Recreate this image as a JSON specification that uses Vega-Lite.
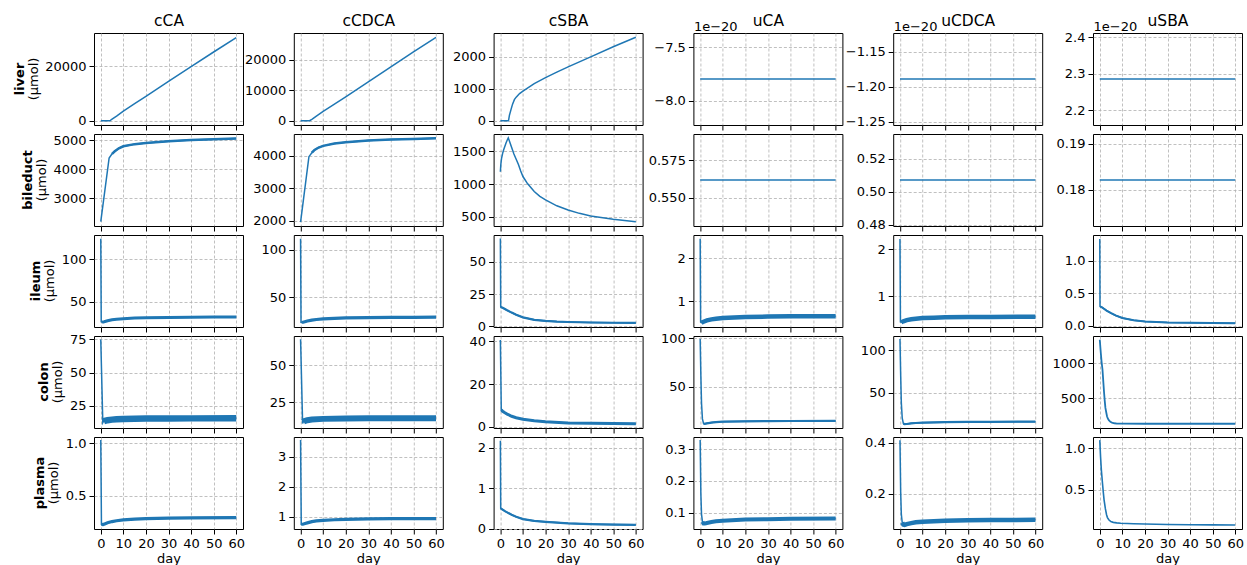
{
"$schema": "https://vega.github.io/schema/vega-lite/v6.json",
"background": "white",
"padding": {"left": 13, "top": 12, "right": 5, "bottom": 5},
"datasets": {
"liver_cCA": [{"day":0,"umol":0},{"day":2,"umol":0},{"day":4,"umol":0},{"day":5,"umol":560},{"day":7,"umol":1720},{"day":10,"umol":3550},{"day":15,"umol":6250},{"day":20,"umol":8950},{"day":30,"umol":14450},{"day":40,"umol":19800},{"day":50,"umol":25150},{"day":60,"umol":30430}],
"liver_cCDCA": [{"day":0,"umol":0},{"day":2,"umol":0},{"day":4,"umol":0},{"day":5,"umol":480},{"day":7,"umol":1500},{"day":10,"umol":3100},{"day":15,"umol":5450},{"day":20,"umol":7830},{"day":30,"umol":12800},{"day":40,"umol":17680},{"day":50,"umol":22650},{"day":60,"umol":27400}],
"liver_cSBA": [{"day":0,"umol":0},{"day":2,"umol":0},{"day":3.6,"umol":0},{"day":4,"umol":170},{"day":4.7,"umol":350},{"day":5.4,"umol":520},{"day":6.2,"umol":660},{"day":7,"umol":740},{"day":8.5,"umol":850},{"day":10,"umol":930},{"day":15,"umol":1160},{"day":20,"umol":1350},{"day":25,"umol":1520},{"day":30,"umol":1685},{"day":40,"umol":2000},{"day":50,"umol":2315},{"day":60,"umol":2610}],
"liver_uCA": [{"day":0,"umol":-7.798e-20},{"day":30,"umol":-7.798e-20},{"day":60,"umol":-7.798e-20}],
"liver_uCDCA": [{"day":0,"umol":-1.189e-20},{"day":30,"umol":-1.189e-20},{"day":60,"umol":-1.189e-20}],
"liver_uSBA": [{"day":0,"umol":2.2855e-20},{"day":30,"umol":2.2855e-20},{"day":60,"umol":2.2855e-20}],
"bileduct_cCA": [{"day":0,"umol":2190},{"day":3.7,"umol":4387},{"day":5,"umol":4530},{"day":6.2,"umol":4618},{"day":8,"umol":4720},{"day":10,"umol":4792},{"day":15,"umol":4865},{"day":20,"umol":4908},{"day":30,"umol":4965},{"day":40,"umol":5012},{"day":50,"umol":5035},{"day":60,"umol":5058}],
"bileduct_cCDCA": [{"day":0,"umol":1960},{"day":3.7,"umol":3969},{"day":5,"umol":4090},{"day":6.2,"umol":4175},{"day":8,"umol":4250},{"day":10,"umol":4300},{"day":15,"umol":4370},{"day":20,"umol":4412},{"day":30,"umol":4464},{"day":40,"umol":4495},{"day":50,"umol":4515},{"day":60,"umol":4536}],
"bileduct_cSBA": [{"day":0,"umol":1190},{"day":0.2,"umol":1300},{"day":0.5,"umol":1390},{"day":1,"umol":1470},{"day":1.5,"umol":1530},{"day":2,"umol":1580},{"day":2.5,"umol":1630},{"day":3,"umol":1670},{"day":3.5,"umol":1705},{"day":4,"umol":1660},{"day":4.5,"umol":1610},{"day":5,"umol":1560},{"day":6,"umol":1460},{"day":7,"umol":1380},{"day":8,"umol":1300},{"day":9,"umol":1200},{"day":10,"umol":1117},{"day":12,"umol":1010},{"day":15,"umol":888},{"day":17.5,"umol":815},{"day":20,"umol":760},{"day":25,"umol":670},{"day":30,"umol":607},{"day":35,"umol":555},{"day":40,"umol":515},{"day":50,"umol":465},{"day":60,"umol":428}],
"bileduct_uCA": [{"day":0,"umol":0.5619},{"day":30,"umol":0.5619},{"day":60,"umol":0.5619}],
"bileduct_uCDCA": [{"day":0,"umol":0.5071},{"day":30,"umol":0.5071},{"day":60,"umol":0.5071}],
"bileduct_uSBA": [{"day":0,"umol":0.1821},{"day":30,"umol":0.1821},{"day":60,"umol":0.1821}],
"ileum_cCA": [{"day":0,"umol":124.5},{"day":0.2,"umol":26},{"day":0.6,"umol":25.4},{"day":1.5,"umol":26},{"day":3,"umol":27.2},{"day":5,"umol":28.3},{"day":7,"umol":29},{"day":10,"umol":29.7},{"day":15,"umol":30.4},{"day":20,"umol":30.8},{"day":30,"umol":31.2},{"day":40,"umol":31.5},{"day":50,"umol":31.7},{"day":60,"umol":31.8}],
"ileum_cCDCA": [{"day":0,"umol":111.6},{"day":0.2,"umol":23.6},{"day":0.6,"umol":23.4},{"day":1.5,"umol":24},{"day":3,"umol":25},{"day":5,"umol":26},{"day":7,"umol":26.6},{"day":10,"umol":27.2},{"day":15,"umol":27.8},{"day":20,"umol":28.2},{"day":30,"umol":28.6},{"day":40,"umol":28.8},{"day":50,"umol":28.9},{"day":60,"umol":29}],
"ileum_cSBA": [{"day":0,"umol":68.2},{"day":0.15,"umol":15},{"day":1,"umol":14.3},{"day":2,"umol":13.4},{"day":3,"umol":12.4},{"day":5,"umol":10.6},{"day":7,"umol":8.9},{"day":10,"umol":6.9},{"day":15,"umol":5},{"day":20,"umol":4.1},{"day":25,"umol":3.6},{"day":30,"umol":3.3},{"day":40,"umol":2.9},{"day":50,"umol":2.7},{"day":60,"umol":2.6}],
"ileum_uCA": [{"day":0,"umol":2.45},{"day":0.2,"umol":0.51},{"day":0.6,"umol":0.5},{"day":1.5,"umol":0.52},{"day":3,"umol":0.55},{"day":5,"umol":0.575},{"day":7,"umol":0.59},{"day":10,"umol":0.605},{"day":15,"umol":0.62},{"day":20,"umol":0.63},{"day":30,"umol":0.64},{"day":40,"umol":0.645},{"day":60,"umol":0.65}],
"ileum_uCDCA": [{"day":0,"umol":2.22},{"day":0.2,"umol":0.445},{"day":0.6,"umol":0.44},{"day":1.5,"umol":0.46},{"day":3,"umol":0.485},{"day":5,"umol":0.505},{"day":7,"umol":0.515},{"day":10,"umol":0.528},{"day":15,"umol":0.538},{"day":20,"umol":0.545},{"day":30,"umol":0.55},{"day":40,"umol":0.553},{"day":60,"umol":0.556}],
"ileum_uSBA": [{"day":0,"umol":1.34},{"day":0.1,"umol":0.3},{"day":1,"umol":0.285},{"day":2,"umol":0.26},{"day":3,"umol":0.235},{"day":5,"umol":0.195},{"day":7,"umol":0.16},{"day":10,"umol":0.12},{"day":15,"umol":0.085},{"day":20,"umol":0.066},{"day":30,"umol":0.052},{"day":40,"umol":0.046},{"day":50,"umol":0.043},{"day":60,"umol":0.041}],
"colon_cCA": [{"day":0,"umol":75},{"day":0.9,"umol":12.3},{"day":1.2,"umol":13.2},{"day":1.5,"umol":13.6},{"day":3,"umol":14.2},{"day":5,"umol":14.6},{"day":7,"umol":14.9},{"day":10,"umol":15.1},{"day":15,"umol":15.3},{"day":20,"umol":15.4},{"day":30,"umol":15.5},{"day":40,"umol":15.55},{"day":60,"umol":15.6}],
"colon_cCDCA": [{"day":0,"umol":67.2},{"day":0.9,"umol":11},{"day":1.2,"umol":12},{"day":1.5,"umol":12.4},{"day":3,"umol":13.1},{"day":5,"umol":13.6},{"day":10,"umol":14},{"day":20,"umol":14.3},{"day":30,"umol":14.4},{"day":60,"umol":14.5}],
"colon_cSBA": [{"day":0,"umol":40.5},{"day":0.4,"umol":8},{"day":1,"umol":7.3},{"day":2,"umol":6.6},{"day":3,"umol":6},{"day":5,"umol":5},{"day":7,"umol":4.3},{"day":10,"umol":3.6},{"day":15,"umol":2.9},{"day":20,"umol":2.4},{"day":30,"umol":1.9},{"day":40,"umol":1.7},{"day":50,"umol":1.6},{"day":60,"umol":1.55}],
"colon_uCA": [{"day":0,"umol":99.3},{"day":0.3,"umol":62},{"day":0.6,"umol":33},{"day":1,"umol":17},{"day":1.5,"umol":12.2},{"day":2,"umol":11.9},{"day":3,"umol":12.4},{"day":5,"umol":13.2},{"day":7,"umol":13.7},{"day":10,"umol":14.1},{"day":20,"umol":14.5},{"day":30,"umol":14.7},{"day":40,"umol":14.8},{"day":60,"umol":14.9}],
"colon_uCDCA": [{"day":0,"umol":113.3},{"day":0.3,"umol":72},{"day":0.6,"umol":38},{"day":1,"umol":20},{"day":1.5,"umol":13.6},{"day":2,"umol":12.8},{"day":3,"umol":13},{"day":5,"umol":13.8},{"day":7,"umol":14.2},{"day":10,"umol":14.6},{"day":20,"umol":15.2},{"day":30,"umol":15.5},{"day":40,"umol":15.6},{"day":60,"umol":15.8}],
"colon_uSBA": [{"day":0,"umol":1337},{"day":0.45,"umol":1150},{"day":0.8,"umol":1020},{"day":1.2,"umol":910},{"day":1.6,"umol":720},{"day":1.9,"umol":580},{"day":2.2,"umol":460},{"day":2.5,"umol":360},{"day":2.9,"umol":290},{"day":3.2,"umol":240},{"day":3.6,"umol":205},{"day":4,"umol":183},{"day":4.7,"umol":160},{"day":5.4,"umol":149},{"day":6.5,"umol":140},{"day":7.6,"umol":135},{"day":10,"umol":134},{"day":20,"umol":133},{"day":40,"umol":133},{"day":60,"umol":133}],
"plasma_cCA": [{"day":0,"umol":1.032},{"day":0.3,"umol":0.226},{"day":1,"umol":0.224},{"day":2,"umol":0.232},{"day":3,"umol":0.24},{"day":5,"umol":0.252},{"day":7,"umol":0.26},{"day":10,"umol":0.268},{"day":15,"umol":0.275},{"day":20,"umol":0.28},{"day":30,"umol":0.285},{"day":40,"umol":0.288},{"day":60,"umol":0.29}],
"plasma_cCDCA": [{"day":0,"umol":3.56},{"day":0.3,"umol":0.754},{"day":1,"umol":0.755},{"day":2,"umol":0.78},{"day":3,"umol":0.8},{"day":5,"umol":0.84},{"day":7,"umol":0.865},{"day":10,"umol":0.885},{"day":15,"umol":0.905},{"day":20,"umol":0.92},{"day":30,"umol":0.935},{"day":40,"umol":0.94},{"day":60,"umol":0.945}],
"plasma_cSBA": [{"day":0,"umol":2.17},{"day":0.15,"umol":0.5},{"day":1,"umol":0.47},{"day":2,"umol":0.43},{"day":3,"umol":0.4},{"day":5,"umol":0.34},{"day":7,"umol":0.29},{"day":10,"umol":0.235},{"day":15,"umol":0.19},{"day":20,"umol":0.166},{"day":30,"umol":0.13},{"day":40,"umol":0.11},{"day":50,"umol":0.1},{"day":60,"umol":0.092}],
"plasma_uCA": [{"day":0,"umol":0.3286},{"day":0.3,"umol":0.16},{"day":0.6,"umol":0.095},{"day":1,"umol":0.072},{"day":1.5,"umol":0.066},{"day":2,"umol":0.066},{"day":3,"umol":0.068},{"day":5,"umol":0.071},{"day":7,"umol":0.073},{"day":10,"umol":0.075},{"day":20,"umol":0.079},{"day":30,"umol":0.08},{"day":40,"umol":0.081},{"day":60,"umol":0.082}],
"plasma_uCDCA": [{"day":0,"umol":0.41},{"day":0.3,"umol":0.21},{"day":0.6,"umol":0.12},{"day":1,"umol":0.088},{"day":1.5,"umol":0.08},{"day":2,"umol":0.079},{"day":3,"umol":0.082},{"day":5,"umol":0.086},{"day":7,"umol":0.089},{"day":10,"umol":0.091},{"day":20,"umol":0.095},{"day":30,"umol":0.097},{"day":40,"umol":0.098},{"day":60,"umol":0.099}],
"plasma_uSBA": [{"day":0,"umol":1.1},{"day":0.35,"umol":0.9},{"day":0.7,"umol":0.74},{"day":1.2,"umol":0.58},{"day":1.6,"umol":0.46},{"day":1.9,"umol":0.38},{"day":2.5,"umol":0.27},{"day":3,"umol":0.2},{"day":3.4,"umol":0.166},{"day":4,"umol":0.14},{"day":4.9,"umol":0.117},{"day":6,"umol":0.108},{"day":7.5,"umol":0.102},{"day":9.3,"umol":0.098},{"day":15,"umol":0.092},{"day":20,"umol":0.088},{"day":30,"umol":0.083},{"day":40,"umol":0.08},{"day":50,"umol":0.078},{"day":60,"umol":0.077}]
},
"columns": 6,
"spacing": {"row": 9, "column": 50.8},
"bounds": "flush",
"concat": [
  {"width":149,"height":92,"data":{"name":"liver_cCA"},
   "title": {"text": "liver", "subtitle": "(µmol)", "orient": "left", "anchor": "middle", "fontWeight": "bold", "fontSize": 13, "subtitleFont": "DejaVu Sans", "subtitleFontSize": 13, "subtitleFontWeight": "normal", "subtitleColor": "#000", "subtitlePadding": 1, "offset": 4},
   "resolve": {"axis": {"x": "independent"}},
   "encoding":{"y":{"field":"umol","type":"quantitative","scale":{"domain":[-1550,32100],"nice":false,"zero":false},"axis":{"values":[0,20000],"format":"d","title":null}}},
   "layer":[
    {"mark":{"type":"line"},"encoding":{"x":{"field":"day","type":"quantitative","scale":{"domain":[-3,63],"nice":false},"axis":{"orient":"bottom","values":[0,10,20,30,40,50,60],"labels":false,"title":null}}}},
    {"mark":{"type":"line","opacity":0},"encoding":{"x":{"field":"day","type":"quantitative","scale":{"domain":[-3,63],"nice":false},"axis":{"orient":"top","title":"cCA","values":[0,10,20,30,40,50,60],"labels":false,"ticks":false,"grid":false,"domain":false,"titleFontSize":15.5,"titlePadding":5}}}}
   ]},
  {"width":149,"height":92,"data":{"name":"liver_cCDCA"},
   "resolve": {"axis": {"x": "independent"}},
   "encoding":{"y":{"field":"umol","type":"quantitative","scale":{"domain":[-1400,28850],"nice":false,"zero":false},"axis":{"values":[0,10000,20000],"format":"d","title":null}}},
   "layer":[
    {"mark":{"type":"line"},"encoding":{"x":{"field":"day","type":"quantitative","scale":{"domain":[-3,63],"nice":false},"axis":{"orient":"bottom","values":[0,10,20,30,40,50,60],"labels":false,"title":null}}}},
    {"mark":{"type":"line","opacity":0},"encoding":{"x":{"field":"day","type":"quantitative","scale":{"domain":[-3,63],"nice":false},"axis":{"orient":"top","title":"cCDCA","values":[0,10,20,30,40,50,60],"labels":false,"ticks":false,"grid":false,"domain":false,"titleFontSize":15.5,"titlePadding":5}}}}
   ]},
  {"width":149,"height":92,"data":{"name":"liver_cSBA"},
   "resolve": {"axis": {"x": "independent"}},
   "encoding":{"y":{"field":"umol","type":"quantitative","scale":{"domain":[-132,2745],"nice":false,"zero":false},"axis":{"values":[0,1000,2000],"format":"d","title":null}}},
   "layer":[
    {"mark":{"type":"line"},"encoding":{"x":{"field":"day","type":"quantitative","scale":{"domain":[-3,63],"nice":false},"axis":{"orient":"bottom","values":[0,10,20,30,40,50,60],"labels":false,"title":null}}}},
    {"mark":{"type":"line","opacity":0},"encoding":{"x":{"field":"day","type":"quantitative","scale":{"domain":[-3,63],"nice":false},"axis":{"orient":"top","title":"cSBA","values":[0,10,20,30,40,50,60],"labels":false,"ticks":false,"grid":false,"domain":false,"titleFontSize":15.5,"titlePadding":5}}}}
   ]},
  {"width":149,"height":92,"data":{"name":"liver_uCA"},
   "resolve": {"axis": {"x": "independent"}},
   "encoding":{"y":{"field":"umol","type":"quantitative","scale":{"domain":[-8.2269e-20,-7.3691e-20],"nice":false,"zero":false},"axis":{"values":[-8e-20,-7.5e-20],"labelExpr":"format(datum.value*1e20, '.1f')","title":"1e−20","titleAngle":0,"titleX":0,"titleY":-3,"titleAlign":"left","titleBaseline":"alphabetic"}}},
   "layer":[
    {"mark":{"type":"line"},"encoding":{"x":{"field":"day","type":"quantitative","scale":{"domain":[-3,63],"nice":false},"axis":{"orient":"bottom","values":[0,10,20,30,40,50,60],"labels":false,"title":null}}}},
    {"mark":{"type":"line","opacity":0},"encoding":{"x":{"field":"day","type":"quantitative","scale":{"domain":[-3,63],"nice":false},"axis":{"orient":"top","title":"uCA","values":[0,10,20,30,40,50,60],"labels":false,"ticks":false,"grid":false,"domain":false,"titleFontSize":15.5,"titlePadding":5}}}}
   ]},
  {"width":149,"height":92,"data":{"name":"liver_uCDCA"},
   "resolve": {"axis": {"x": "independent"}},
   "encoding":{"y":{"field":"umol","type":"quantitative","scale":{"domain":[-1.2544e-20,-1.1236e-20],"nice":false,"zero":false},"axis":{"values":[-1.25e-20,-1.2e-20,-1.15e-20],"labelExpr":"format(datum.value*1e20, '.2f')","title":"1e−20","titleAngle":0,"titleX":0,"titleY":-3,"titleAlign":"left","titleBaseline":"alphabetic"}}},
   "layer":[
    {"mark":{"type":"line"},"encoding":{"x":{"field":"day","type":"quantitative","scale":{"domain":[-3,63],"nice":false},"axis":{"orient":"bottom","values":[0,10,20,30,40,50,60],"labels":false,"title":null}}}},
    {"mark":{"type":"line","opacity":0},"encoding":{"x":{"field":"day","type":"quantitative","scale":{"domain":[-3,63],"nice":false},"axis":{"orient":"top","title":"uCDCA","values":[0,10,20,30,40,50,60],"labels":false,"ticks":false,"grid":false,"domain":false,"titleFontSize":15.5,"titlePadding":5}}}}
   ]},
  {"width":149,"height":92,"data":{"name":"liver_uSBA"},
   "resolve": {"axis": {"x": "independent"}},
   "encoding":{"y":{"field":"umol","type":"quantitative","scale":{"domain":[2.1598e-20,2.4112e-20],"nice":false,"zero":false},"axis":{"values":[2.2e-20,2.3e-20,2.4e-20],"labelExpr":"format(datum.value*1e20, '.1f')","title":"1e−20","titleAngle":0,"titleX":0,"titleY":-3,"titleAlign":"left","titleBaseline":"alphabetic"}}},
   "layer":[
    {"mark":{"type":"line"},"encoding":{"x":{"field":"day","type":"quantitative","scale":{"domain":[-3,63],"nice":false},"axis":{"orient":"bottom","values":[0,10,20,30,40,50,60],"labels":false,"title":null}}}},
    {"mark":{"type":"line","opacity":0},"encoding":{"x":{"field":"day","type":"quantitative","scale":{"domain":[-3,63],"nice":false},"axis":{"orient":"top","title":"uSBA","values":[0,10,20,30,40,50,60],"labels":false,"ticks":false,"grid":false,"domain":false,"titleFontSize":15.5,"titlePadding":5}}}}
   ]},

  {"width":149,"height":92,"data":{"name":"bileduct_cCA"},
   "title": {"text": "bileduct", "subtitle": "(µmol)", "orient": "left", "anchor": "middle", "fontWeight": "bold", "fontSize": 13, "subtitleFont": "DejaVu Sans", "subtitleFontSize": 13, "subtitleFontWeight": "normal", "subtitleColor": "#000", "subtitlePadding": 1, "offset": 4},
   "encoding":{"x":{"field":"day","type":"quantitative","scale":{"domain":[-3,63],"nice":false},"axis":{"values":[0,10,20,30,40,50,60],"labels":false,"title":null}},
   "y":{"field":"umol","type":"quantitative","scale":{"domain":[2040,5215],"nice":false,"zero":false},"axis":{"values":[3000,4000,5000],"format":"d","title":null}}},
   "layer":[{"mark":{"type":"line"}},{"transform":[{"filter":"datum.day >= 5"}],"mark":{"type":"line","strokeWidth":2.5}}]},
  {"width":149,"height":92,"data":{"name":"bileduct_cCDCA"},
   "encoding":{"x":{"field":"day","type":"quantitative","scale":{"domain":[-3,63],"nice":false},"axis":{"values":[0,10,20,30,40,50,60],"labels":false,"title":null}},
   "y":{"field":"umol","type":"quantitative","scale":{"domain":[1840,4665],"nice":false,"zero":false},"axis":{"values":[2000,3000,4000],"format":"d","title":null}}},
   "layer":[{"mark":{"type":"line"}},{"transform":[{"filter":"datum.day >= 5"}],"mark":{"type":"line","strokeWidth":2.5}}]},
  {"width":149,"height":92,"data":{"name":"bileduct_cSBA"},"mark":{"type":"line"},
   "encoding":{"x":{"field":"day","type":"quantitative","scale":{"domain":[-3,63],"nice":false},"axis":{"values":[0,10,20,30,40,50,60],"labels":false,"title":null}},
   "y":{"field":"umol","type":"quantitative","scale":{"domain":[362,1766],"nice":false,"zero":false},"axis":{"values":[500,1000,1500],"format":"d","title":null}}}},
  {"width":149,"height":92,"data":{"name":"bileduct_uCA"},"mark":{"type":"line"},
   "encoding":{"x":{"field":"day","type":"quantitative","scale":{"domain":[-3,63],"nice":false},"axis":{"values":[0,10,20,30,40,50,60],"labels":false,"title":null}},
   "y":{"field":"umol","type":"quantitative","scale":{"domain":[0.531,0.5928],"nice":false,"zero":false},"axis":{"values":[0.55,0.575],"format":".3f","title":null}}}},
  {"width":149,"height":92,"data":{"name":"bileduct_uCDCA"},"mark":{"type":"line"},
   "encoding":{"x":{"field":"day","type":"quantitative","scale":{"domain":[-3,63],"nice":false},"axis":{"values":[0,10,20,30,40,50,60],"labels":false,"title":null}},
   "y":{"field":"umol","type":"quantitative","scale":{"domain":[0.4792,0.535],"nice":false,"zero":false},"axis":{"values":[0.48,0.5,0.52],"format":".2f","title":null}}}},
  {"width":149,"height":92,"data":{"name":"bileduct_uSBA"},"mark":{"type":"line"},
   "encoding":{"x":{"field":"day","type":"quantitative","scale":{"domain":[-3,63],"nice":false},"axis":{"values":[0,10,20,30,40,50,60],"labels":false,"title":null}},
   "y":{"field":"umol","type":"quantitative","scale":{"domain":[0.1721,0.1921],"nice":false,"zero":false},"axis":{"values":[0.18,0.19],"format":".2f","title":null}}}},

  {"width":149,"height":92,"data":{"name":"ileum_cCA"},
   "title": {"text": "ileum", "subtitle": "(µmol)", "orient": "left", "anchor": "middle", "fontWeight": "bold", "fontSize": 13, "subtitleFont": "DejaVu Sans", "subtitleFontSize": 13, "subtitleFontWeight": "normal", "subtitleColor": "#000", "subtitlePadding": 1, "offset": 4},
   "encoding":{"x":{"field":"day","type":"quantitative","scale":{"domain":[-3,63],"nice":false},"axis":{"values":[0,10,20,30,40,50,60],"labels":false,"title":null}},
   "y":{"field":"umol","type":"quantitative","scale":{"domain":[19.8,129],"nice":false,"zero":false},"axis":{"values":[50,100],"format":"d","title":null}}},
   "layer":[{"mark":{"type":"line"}},{"transform":[{"filter":"datum.day >= 0.6"}],"mark":{"type":"line","strokeWidth":3}}]},
  {"width":149,"height":92,"data":{"name":"ileum_cCDCA"},
   "encoding":{"x":{"field":"day","type":"quantitative","scale":{"domain":[-3,63],"nice":false},"axis":{"values":[0,10,20,30,40,50,60],"labels":false,"title":null}},
   "y":{"field":"umol","type":"quantitative","scale":{"domain":[18.7,115.5],"nice":false,"zero":false},"axis":{"values":[50,100],"format":"d","title":null}}},
   "layer":[{"mark":{"type":"line"}},{"transform":[{"filter":"datum.day >= 0.6"}],"mark":{"type":"line","strokeWidth":3.2}}]},
  {"width":149,"height":92,"data":{"name":"ileum_cSBA"},
   "encoding":{"x":{"field":"day","type":"quantitative","scale":{"domain":[-3,63],"nice":false},"axis":{"values":[0,10,20,30,40,50,60],"labels":false,"title":null}},
   "y":{"field":"umol","type":"quantitative","scale":{"domain":[-0.6,71],"nice":false,"zero":false},"axis":{"values":[0,25,50],"format":"d","title":null}}},
   "layer":[{"mark":{"type":"line"}},{"transform":[{"filter":"datum.day >= 0.15"}],"mark":{"type":"line","strokeWidth":2.2}}]},
  {"width":149,"height":92,"data":{"name":"ileum_uCA"},
   "encoding":{"x":{"field":"day","type":"quantitative","scale":{"domain":[-3,63],"nice":false},"axis":{"values":[0,10,20,30,40,50,60],"labels":false,"title":null}},
   "y":{"field":"umol","type":"quantitative","scale":{"domain":[0.397,2.54],"nice":false,"zero":false},"axis":{"values":[1,2],"format":"d","title":null}}},
   "layer":[{"mark":{"type":"line"}},{"transform":[{"filter":"datum.day >= 0.6"}],"mark":{"type":"line","strokeWidth":4.5}}]},
  {"width":149,"height":92,"data":{"name":"ileum_uCDCA"},
   "encoding":{"x":{"field":"day","type":"quantitative","scale":{"domain":[-3,63],"nice":false},"axis":{"values":[0,10,20,30,40,50,60],"labels":false,"title":null}},
   "y":{"field":"umol","type":"quantitative","scale":{"domain":[0.338,2.305],"nice":false,"zero":false},"axis":{"values":[1,2],"format":"d","title":null}}},
   "layer":[{"mark":{"type":"line"}},{"transform":[{"filter":"datum.day >= 0.6"}],"mark":{"type":"line","strokeWidth":4.5}}]},
  {"width":149,"height":92,"data":{"name":"ileum_uSBA"},
   "encoding":{"x":{"field":"day","type":"quantitative","scale":{"domain":[-3,63],"nice":false},"axis":{"values":[0,10,20,30,40,50,60],"labels":false,"title":null}},
   "y":{"field":"umol","type":"quantitative","scale":{"domain":[-0.018,1.4],"nice":false,"zero":false},"axis":{"values":[0,0.5,1],"format":".1f","title":null}}},
   "layer":[{"mark":{"type":"line"}},{"transform":[{"filter":"datum.day >= 0.1"}],"mark":{"type":"line","strokeWidth":2}}]},

  {"width":149,"height":92,"data":{"name":"colon_cCA"},
   "title": {"text": "colon", "subtitle": "(µmol)", "orient": "left", "anchor": "middle", "fontWeight": "bold", "fontSize": 13, "subtitleFont": "DejaVu Sans", "subtitleFontSize": 13, "subtitleFontWeight": "normal", "subtitleColor": "#000", "subtitlePadding": 1, "offset": 4},
   "encoding":{"x":{"field":"day","type":"quantitative","scale":{"domain":[-3,63],"nice":false},"axis":{"values":[0,10,20,30,40,50,60],"labels":false,"title":null}},
   "y":{"field":"umol","type":"quantitative","scale":{"domain":[8.3,77.6],"nice":false,"zero":false},"axis":{"values":[25,50,75],"format":"d","title":null}}},
   "layer":[{"mark":{"type":"line"}},{"transform":[{"filter":"datum.day >= 1.2"}],"mark":{"type":"line","strokeWidth":6.5}}]},
  {"width":149,"height":92,"data":{"name":"colon_cCDCA"},
   "encoding":{"x":{"field":"day","type":"quantitative","scale":{"domain":[-3,63],"nice":false},"axis":{"values":[0,10,20,30,40,50,60],"labels":false,"title":null}},
   "y":{"field":"umol","type":"quantitative","scale":{"domain":[7.9,69.4],"nice":false,"zero":false},"axis":{"values":[25,50],"format":"d","title":null}}},
   "layer":[{"mark":{"type":"line"}},{"transform":[{"filter":"datum.day >= 1.2"}],"mark":{"type":"line","strokeWidth":6}}]},
  {"width":149,"height":92,"data":{"name":"colon_cSBA"},
   "encoding":{"x":{"field":"day","type":"quantitative","scale":{"domain":[-3,63],"nice":false},"axis":{"values":[0,10,20,30,40,50,60],"labels":false,"title":null}},
   "y":{"field":"umol","type":"quantitative","scale":{"domain":[-0.47,42.35],"nice":false,"zero":false},"axis":{"values":[0,20,40],"format":"d","title":null}}},
   "layer":[{"mark":{"type":"line"}},{"transform":[{"filter":"datum.day >= 0.4"}],"mark":{"type":"line","strokeWidth":3}}]},
  {"width":149,"height":92,"data":{"name":"colon_uCA"},
   "encoding":{"x":{"field":"day","type":"quantitative","scale":{"domain":[-3,63],"nice":false},"axis":{"values":[0,10,20,30,40,50,60],"labels":false,"title":null}},
   "y":{"field":"umol","type":"quantitative","scale":{"domain":[7.6,102.4],"nice":false,"zero":false},"axis":{"values":[50,100],"format":"d","title":null}}},
   "layer":[{"mark":{"type":"line"}},{"transform":[{"filter":"datum.day >= 1.5"}],"mark":{"type":"line","strokeWidth":2.2}}]},
  {"width":149,"height":92,"data":{"name":"colon_uCDCA"},
   "encoding":{"x":{"field":"day","type":"quantitative","scale":{"domain":[-3,63],"nice":false},"axis":{"values":[0,10,20,30,40,50,60],"labels":false,"title":null}},
   "y":{"field":"umol","type":"quantitative","scale":{"domain":[8.3,116.7],"nice":false,"zero":false},"axis":{"values":[50,100],"format":"d","title":null}}},
   "layer":[{"mark":{"type":"line"}},{"transform":[{"filter":"datum.day >= 1.5"}],"mark":{"type":"line","strokeWidth":2.2}}]},
  {"width":149,"height":92,"data":{"name":"colon_uSBA"},"mark":{"type":"line","strokeWidth":1.8},
   "encoding":{"x":{"field":"day","type":"quantitative","scale":{"domain":[-3,63],"nice":false},"axis":{"values":[0,10,20,30,40,50,60],"labels":false,"title":null}},
   "y":{"field":"umol","type":"quantitative","scale":{"domain":[72,1390],"nice":false,"zero":false},"axis":{"values":[500,1000],"format":"d","title":null}}}},

  {"width":149,"height":92,"data":{"name":"plasma_cCA"},
   "title": {"text": "plasma", "subtitle": "(µmol)", "orient": "left", "anchor": "middle", "fontWeight": "bold", "fontSize": 13, "subtitleFont": "DejaVu Sans", "subtitleFontSize": 13, "subtitleFontWeight": "normal", "subtitleColor": "#000", "subtitlePadding": 1, "offset": 4},
   "encoding":{"x":{"field":"day","type":"quantitative","scale":{"domain":[-3,63],"nice":false},"axis":{"values":[0,10,20,30,40,50,60],"title":"day"}},
   "y":{"field":"umol","type":"quantitative","scale":{"domain":[0.181,1.061],"nice":false,"zero":false},"axis":{"values":[0.5,1],"format":".1f","title":null}}},
   "layer":[{"mark":{"type":"line"}},{"transform":[{"filter":"datum.day >= 0.3"}],"mark":{"type":"line","strokeWidth":3.2}}]},
  {"width":149,"height":92,"data":{"name":"plasma_cCDCA"},
   "encoding":{"x":{"field":"day","type":"quantitative","scale":{"domain":[-3,63],"nice":false},"axis":{"values":[0,10,20,30,40,50,60],"title":"day"}},
   "y":{"field":"umol","type":"quantitative","scale":{"domain":[0.596,3.663],"nice":false,"zero":false},"axis":{"values":[1,2,3],"format":"d","title":null}}},
   "layer":[{"mark":{"type":"line"}},{"transform":[{"filter":"datum.day >= 0.3"}],"mark":{"type":"line","strokeWidth":3.2}}]},
  {"width":149,"height":92,"data":{"name":"plasma_cSBA"},
   "encoding":{"x":{"field":"day","type":"quantitative","scale":{"domain":[-3,63],"nice":false},"axis":{"values":[0,10,20,30,40,50,60],"title":"day"}},
   "y":{"field":"umol","type":"quantitative","scale":{"domain":[-0.01,2.26],"nice":false,"zero":false},"axis":{"values":[0,1,2],"format":"d","title":null}}},
   "layer":[{"mark":{"type":"line"}},{"transform":[{"filter":"datum.day >= 0.15"}],"mark":{"type":"line","strokeWidth":2.2}}]},
  {"width":149,"height":92,"data":{"name":"plasma_uCA"},
   "encoding":{"x":{"field":"day","type":"quantitative","scale":{"domain":[-3,63],"nice":false},"axis":{"values":[0,10,20,30,40,50,60],"title":"day"}},
   "y":{"field":"umol","type":"quantitative","scale":{"domain":[0.049,0.338],"nice":false,"zero":false},"axis":{"values":[0.1,0.2,0.3],"format":".1f","title":null}}},
   "layer":[{"mark":{"type":"line"}},{"transform":[{"filter":"datum.day >= 1"}],"mark":{"type":"line","strokeWidth":4}}]},
  {"width":149,"height":92,"data":{"name":"plasma_uCDCA"},
   "encoding":{"x":{"field":"day","type":"quantitative","scale":{"domain":[-3,63],"nice":false},"axis":{"values":[0,10,20,30,40,50,60],"title":"day"}},
   "y":{"field":"umol","type":"quantitative","scale":{"domain":[0.063,0.4225],"nice":false,"zero":false},"axis":{"values":[0.2,0.4],"format":".1f","title":null}}},
   "layer":[{"mark":{"type":"line"}},{"transform":[{"filter":"datum.day >= 1"}],"mark":{"type":"line","strokeWidth":4.5}}]},
  {"width":149,"height":92,"data":{"name":"plasma_uSBA"},"mark":{"type":"line","strokeWidth":1.6},
   "encoding":{"x":{"field":"day","type":"quantitative","scale":{"domain":[-3,63],"nice":false},"axis":{"values":[0,10,20,30,40,50,60],"title":"day"}},
   "y":{"field":"umol","type":"quantitative","scale":{"domain":[0.028,1.138],"nice":false,"zero":false},"axis":{"values":[0.5,1],"format":".1f","title":null}}}}
],
"config": {
 "font": "DejaVu Sans",
 "view": {"stroke": "#000", "strokeWidth": 1},
 "line": {"color": "#1f77b4", "strokeWidth": 1.5},
 "title": {"font": "DejaVu Sans", "fontSize": 15.5, "fontWeight": "normal", "color": "#000", "offset": 5, "anchor": "middle"},
 "axis": {"domain": false, "grid": true, "gridColor": "#b0b0b0", "gridDash": [3, 2], "gridWidth": 0.8, "tickColor": "#000", "tickSize": 5, "tickWidth": 1, "labelFont": "DejaVu Sans", "labelFontSize": 13, "labelColor": "#000", "labelPadding": 3, "labelFlush": false, "labelOverlap": false, "titleFont": "DejaVu Sans", "titleFontSize": 13, "titleFontWeight": "normal", "titleColor": "#000", "titlePadding": 2}
}
}
